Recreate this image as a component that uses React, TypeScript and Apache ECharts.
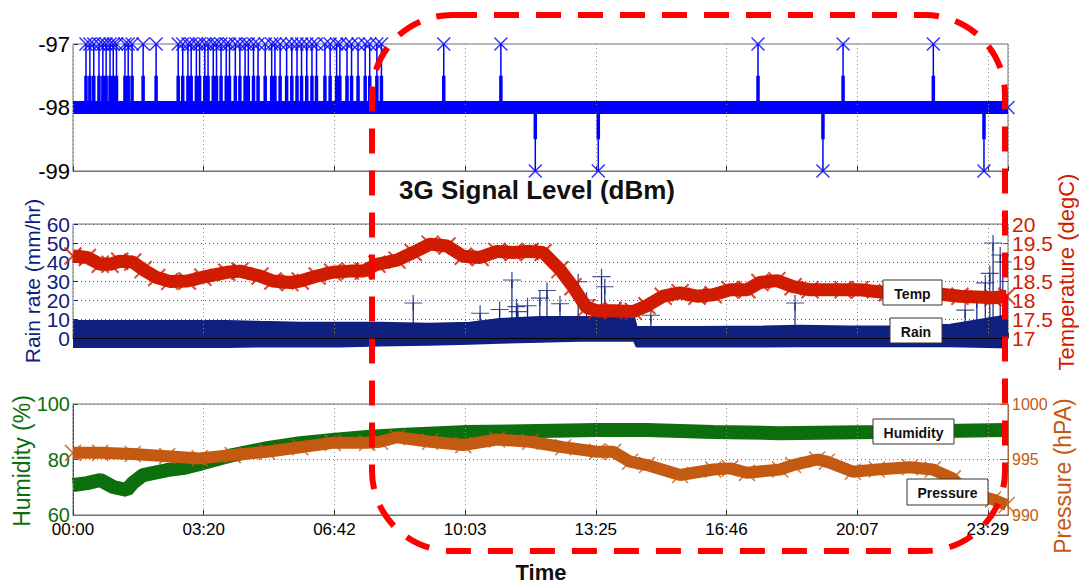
import React, { useEffect, useRef } from "react";
import * as echarts from "echarts";

// ---------- data ----------
const TIME_TICKS = ["00:00", "03:20", "06:42", "10:03", "13:25", "16:46", "20:07", "23:29"];
const TICK_STEP = 1409 / 7; // minutes between time ticks
const DAY_END = 1440;

// 3G signal (dBm): baseline -98, short excursions
const SIGNAL_BASE = -98;
const SIGNAL_UP_VALUE = -97;
const SIGNAL_DOWN_VALUE = -99;
const SIGNAL_UP_TIMES = [20, 26, 32, 40, 46, 51, 57, 62, 67, 80, 85, 91, 108, 128, 162, 169, 177, 182, 190, 195, 203, 208, 216, 221, 228, 236, 241, 250, 257, 265, 270, 278, 285, 296, 306, 311, 319, 329, 337, 345, 352, 360, 368, 375, 388, 396, 406, 411, 422, 429, 439, 450, 457, 468, 475, 571, 659, 1055, 1186, 1325];
const SIGNAL_DOWN_TIMES = [712, 809, 1155, 1403];

// Temperature (degC)
const TEMP_TIMES = [0, 22, 42, 57, 72, 92, 108, 129, 149, 176, 200, 237, 257, 288, 308, 334, 350, 376, 400, 427, 447, 468, 499, 524, 550, 576, 601, 627, 653, 678, 704, 724, 750, 770, 791, 807, 832, 863, 884, 909, 935, 961, 986, 1012, 1038, 1058, 1084, 1109, 1135, 1186, 1212, 1254, 1315, 1366, 1417, 1438];
const TEMP_VALUES = [19.16, 19.12, 18.94, 18.94, 19.02, 19.0, 18.8, 18.59, 18.49, 18.5, 18.6, 18.73, 18.76, 18.63, 18.5, 18.46, 18.5, 18.63, 18.73, 18.76, 18.76, 18.94, 19.05, 19.25, 19.47, 19.42, 19.15, 19.12, 19.28, 19.25, 19.28, 19.25, 18.8, 18.35, 17.8, 17.72, 17.72, 17.7, 17.85, 18.1, 18.19, 18.1, 18.14, 18.27, 18.27, 18.46, 18.51, 18.35, 18.27, 18.27, 18.27, 18.19, 18.19, 18.1, 18.06, 18.1];

// Rain rate (mm/hr): envelope of the dense noise band
const RAIN_ENV_TIMES = [0, 237, 288, 350, 411, 473, 549, 611, 657, 719, 781, 842, 864, 868, 966, 1063, 1120, 1197, 1274, 1351, 1405, 1440];
const RAIN_UPPER = [9, 9, 8.5, 8, 8, 8, 7.5, 8, 10, 11, 11, 11, 11, 5.8, 5.8, 6, 6.5, 6, 6, 7, 10, 12];
const RAIN_LOWER = [-4.7, -4.7, -4.5, -4.5, -4.5, -4, -3.5, -3, -2.5, -2, -1.5, -1.5, -1.5, -4.5, -4.5, -4.5, -4.3, -4.3, -4.3, -4.3, -4.8, -5];
const RAIN_SPIKE_BASE = 4;
const RAIN_SPIKE_TIMES = [524, 627, 657, 676, 683, 685, 700, 719, 730, 750, 778, 791, 814, 819, 842, 890, 1112, 1374, 1392, 1405, 1412, 1417, 1428, 1432];
const RAIN_SPIKE_VALUES = [18.4, 13, 15, 30.5, 16.5, 13.9, 17, 21, 25, 18, 29.6, 20, 32.3, 27, 15, 12, 18.4, 14.7, 20, 29, 34, 50, 43.7, 40];

// Humidity (%)
const HUM_TIMES = [0, 22, 42, 62, 83, 92, 108, 145, 169, 200, 246, 299, 350, 400, 453, 504, 607, 807, 884, 986, 1089, 1238, 1438];
const HUM_VALUES = [70.8, 71.5, 72.6, 70.1, 69, 71.5, 74.4, 76.2, 76.9, 78.7, 81.6, 84.1, 85.9, 87, 88.1, 88.8, 89.9, 90.6, 90.6, 89.9, 89.5, 89.9, 90.6];

// Pressure (hPA)
const PRES_TIMES = [0, 42, 92, 145, 195, 246, 299, 350, 400, 453, 473, 499, 550, 601, 653, 704, 755, 807, 832, 858, 884, 935, 986, 1012, 1038, 1089, 1109, 1146, 1161, 1201, 1238, 1289, 1324, 1355, 1377, 1417, 1438];
const PRES_VALUES = [995.6, 995.6, 995.5, 995.3, 995.1, 995.4, 995.7, 996.1, 996.5, 996.5, 996.6, 997.0, 996.6, 996.3, 996.8, 996.6, 996.1, 995.7, 995.7, 994.8, 994.5, 993.6, 994.1, 994.2, 993.8, 994.1, 994.5, 995.0, 994.8, 993.9, 994.1, 994.3, 994.1, 993.3, 992.0, 991.4, 990.9];

// Label boxes
const BOX_LABELS = ["Temp", "Rain", "Humidity", "Pressure"];

// ---------- styles ----------
const FONT = "'Liberation Sans', Arial, Helvetica, sans-serif";
const BLUE = "#0000ff";
const NAVY = "#10207e";
const RED = "#d01c00";
const GREEN = "#0c6e0c";
const ORANGE = "#c45a12";
const X_PATH = "path://M0,0L10,10M10,0L0,10";
const PLUS_PATH = "path://M5,0L5,10M0,5L10,5";
const BOX_RECTS = [
  { x: 883, y: 280, w: 59, h: 25 },
  { x: 890, y: 318, w: 52, h: 25 },
  { x: 873, y: 419, w: 81, h: 25 },
  { x: 907, y: 479, w: 81, h: 26 },
];

const zip = (xs: number[], ys: number[]) => xs.map((x, i) => [x, ys[i]]);

function timeLabel(v: number): string {
  const i = Math.round(v / TICK_STEP);
  return Math.abs(v - i * TICK_STEP) < 1 && TIME_TICKS[i] !== undefined ? TIME_TICKS[i] : "";
}

function xAxisFor(gridIndex: number, showLabels: boolean, lineColor: string) {
  return {
    type: "value",
    gridIndex,
    min: 0,
    max: DAY_END,
    interval: TICK_STEP,
    z: 3,
    axisLine: { show: true, lineStyle: { color: lineColor, width: 1 } },
    axisTick: { show: true, inside: true, length: 5, lineStyle: { color: "#333" } },
    axisLabel: {
      show: showLabels,
      formatter: timeLabel,
      color: "#000",
      fontSize: 17,
      fontFamily: FONT,
      margin: 6,
      showMinLabel: true,
      showMaxLabel: false,
    },
    splitLine: { show: true, lineStyle: { color: "#8a8a8a", type: [1, 3], width: 1 } },
  };
}

// keep: which of the alternating ticks get a label (0 = even steps, 1 = odd steps, -1 = all)
function yLabel(color: string, fontSize: number, margin: number, base = 0, step = 1, keep = -1) {
  return {
    color,
    fontSize,
    fontFamily: FONT,
    margin,
    showMinLabel: true,
    showMaxLabel: true,
    hideOverlap: false,
    formatter: (v: number) => {
      if (keep < 0) return String(v);
      const k = Math.round((v - base) / step);
      return k % 2 === keep ? String(v) : "";
    },
  };
}

export default function App() {
  const ref = useRef<HTMLDivElement>(null);

  useEffect(() => {
    if (!ref.current) return;
    const chart = echarts.init(ref.current, undefined, { renderer: "svg" });

    const events = [
      ...SIGNAL_UP_TIMES.map((t) => [t, SIGNAL_UP_VALUE]),
      ...SIGNAL_DOWN_TIMES.map((t) => [t, SIGNAL_DOWN_VALUE]),
    ].sort((a, b) => a[0] - b[0]);
    const spikeLines = events.flatMap(([t, v]) => [[t, SIGNAL_BASE], [t, v], [t, SIGNAL_BASE]]);
    const spikeThick = events.flatMap(([t, v]) => [
      [t, SIGNAL_BASE],
      [t, SIGNAL_BASE + (v - SIGNAL_BASE) * 0.5],
      [t, SIGNAL_BASE],
    ]);
    const rainSpikes = RAIN_SPIKE_TIMES.flatMap((t, i) => [
      [t, RAIN_SPIKE_BASE],
      [t, RAIN_SPIKE_VALUES[i]],
      [t, RAIN_SPIKE_BASE],
    ]);

    const frame = { show: true, borderColor: "#707070", borderWidth: 1, backgroundColor: "transparent" };

    const boxGraphics = BOX_LABELS.flatMap((label, i) => {
      const b = BOX_RECTS[i];
      return [
        {
          type: "rect", z: 60, zlevel: 1,
          shape: { x: b.x, y: b.y, width: b.w, height: b.h },
          style: { fill: "#fff", stroke: "#333", lineWidth: 1 },
        },
        {
          type: "text", z: 61, zlevel: 1, x: b.x + b.w / 2, y: b.y + b.h / 2 + 1,
          style: { text: label, fill: "#111", font: `bold 14px ${FONT}`, textAlign: "center", textVerticalAlign: "middle" },
        },
      ];
    });

    const labelOnly = { axisLine: { show: false }, axisTick: { show: false }, splitLine: { show: false } };

    const option: any = {
      animation: false,
      backgroundColor: "#ffffff",
      grid: [
        { left: 73, top: 44, width: 935, height: 127, ...frame },
        { left: 73, top: 224, width: 935, height: 114, ...frame },
        { left: 73, top: 404, width: 935, height: 111, ...frame },
      ],
      xAxis: [xAxisFor(0, false, "#707070"), xAxisFor(1, false, "#000"), xAxisFor(2, true, "#707070")],
      yAxis: [
        // 0: signal
        {
          type: "value", gridIndex: 0, min: -99, max: -97, interval: 1,
          axisLine: { show: false },
          axisTick: { show: true, inside: true, length: 5, lineStyle: { color: "#333" } },
          axisLabel: yLabel("#000", 22, 3),
          splitLine: { show: false },
        },
        // 1: rain (even labels, grid lines)
        {
          type: "value", gridIndex: 1, position: "left", min: 0, max: 60, interval: 10,
          axisLine: { show: false },
          axisTick: { show: true, inside: true, length: 5, lineStyle: { color: NAVY } },
          axisLabel: yLabel(NAVY, 21, 3, 0, 10, 0),
          splitLine: { show: true, lineStyle: { color: "#3a4fd0", type: [1, 3], width: 1 } },
        },
        // 2: rain (odd labels)
        {
          type: "value", gridIndex: 1, position: "left", min: 0, max: 60, interval: 10, ...labelOnly,
          axisLabel: yLabel(NAVY, 21, 3, 0, 10, 1),
        },
        // 3: temperature (integers)
        {
          type: "value", gridIndex: 1, position: "right", min: 17, max: 20, interval: 0.5,
          axisLine: { show: false },
          axisTick: { show: true, inside: true, length: 5, lineStyle: { color: RED } },
          axisLabel: yLabel(RED, 21, 4, 17, 0.5, 0),
          splitLine: { show: false },
        },
        // 4: temperature (halves)
        {
          type: "value", gridIndex: 1, position: "right", min: 17, max: 20, interval: 0.5, ...labelOnly,
          axisLabel: yLabel(RED, 21, 4, 17, 0.5, 1),
        },
        // 5: humidity
        {
          type: "value", gridIndex: 2, position: "left", min: 60, max: 100, interval: 20,
          axisLine: { show: true, lineStyle: { color: GREEN } },
          axisTick: { show: true, inside: true, length: 5, lineStyle: { color: GREEN } },
          axisLabel: yLabel(GREEN, 20, 3),
          splitLine: { show: true, lineStyle: { color: "#3aa03a", type: [1, 3], width: 1 } },
        },
        // 6: pressure
        {
          type: "value", gridIndex: 2, position: "right", min: 990, max: 1000, interval: 5,
          axisLine: { show: true, lineStyle: { color: ORANGE } },
          axisTick: { show: true, inside: true, length: 8, lineStyle: { color: ORANGE } },
          axisLabel: yLabel(ORANGE, 16, 4),
          splitLine: { show: false },
        },
      ],
      series: [
        // --- 3G signal ---
        {
          type: "line", xAxisIndex: 0, yAxisIndex: 0, symbol: "none", clip: false,
          data: [[0, SIGNAL_BASE], [DAY_END, SIGNAL_BASE]],
          lineStyle: { color: BLUE, width: 13 }, z: 2,
        },
        {
          type: "line", xAxisIndex: 0, yAxisIndex: 0, symbol: "none", clip: false,
          data: spikeLines, lineStyle: { color: BLUE, width: 1.5 }, z: 3,
        },
        {
          type: "line", xAxisIndex: 0, yAxisIndex: 0, symbol: "none", clip: false,
          data: spikeThick, lineStyle: { color: BLUE, width: 3.5 }, z: 3,
        },
        {
          type: "scatter", xAxisIndex: 0, yAxisIndex: 0, clip: false,
          data: [...events, [DAY_END, SIGNAL_BASE]],
          symbol: X_PATH, symbolSize: 13,
          itemStyle: { color: "rgba(0,0,0,0)", borderColor: BLUE, borderWidth: 1.5 }, z: 4,
        },
        // --- rain ---
        {
          type: "line", xAxisIndex: 1, yAxisIndex: 1, symbol: "none", clip: false,
          data: zip(RAIN_ENV_TIMES, RAIN_UPPER),
          lineStyle: { color: NAVY, width: 2 }, areaStyle: { color: NAVY, opacity: 1, origin: "auto" }, z: 2,
        },
        {
          type: "line", xAxisIndex: 1, yAxisIndex: 1, symbol: "none", clip: false,
          data: zip(RAIN_ENV_TIMES, RAIN_LOWER),
          lineStyle: { color: NAVY, width: 2 }, areaStyle: { color: NAVY, opacity: 1, origin: "auto" }, z: 2,
        },
        {
          type: "line", xAxisIndex: 1, yAxisIndex: 1, symbol: "none", clip: false,
          data: rainSpikes, lineStyle: { color: NAVY, width: 1.2 }, z: 2,
        },
        {
          type: "scatter", xAxisIndex: 1, yAxisIndex: 1, clip: false,
          data: zip(RAIN_SPIKE_TIMES, RAIN_SPIKE_VALUES),
          symbol: PLUS_PATH, symbolSize: [18, 16],
          itemStyle: { color: "rgba(0,0,0,0)", borderColor: NAVY, borderWidth: 1.2 }, z: 2,
        },
        // --- temperature ---
        {
          type: "line", xAxisIndex: 1, yAxisIndex: 3, symbol: "none", clip: false,
          data: zip(TEMP_TIMES, TEMP_VALUES), lineStyle: { color: RED, width: 13 }, z: 5,
        },
        {
          type: "scatter", xAxisIndex: 1, yAxisIndex: 3, clip: false,
          data: zip(TEMP_TIMES, TEMP_VALUES), symbol: X_PATH, symbolSize: 17,
          itemStyle: { color: "rgba(0,0,0,0)", borderColor: RED, borderWidth: 2 }, z: 5,
        },
        // --- humidity ---
        {
          type: "line", xAxisIndex: 2, yAxisIndex: 5, symbol: "none", clip: false,
          data: zip(HUM_TIMES, HUM_VALUES), lineStyle: { color: GREEN, width: 14 }, z: 2,
        },
        // --- pressure ---
        {
          type: "line", xAxisIndex: 2, yAxisIndex: 6, symbol: "none", clip: false,
          data: zip(PRES_TIMES, PRES_VALUES), lineStyle: { color: ORANGE, width: 12 }, z: 5,
        },
        {
          type: "scatter", xAxisIndex: 2, yAxisIndex: 6, clip: false,
          data: zip(PRES_TIMES, PRES_VALUES), symbol: X_PATH, symbolSize: 16,
          itemStyle: { color: "rgba(0,0,0,0)", borderColor: ORANGE, borderWidth: 1.6 }, z: 5,
        },
      ],
      graphic: [
        {
          type: "text", x: 537, y: 190, z: 50,
          style: { text: "3G Signal Level (dBm)", fill: "#111", font: `bold 26px ${FONT}`, textAlign: "center", textVerticalAlign: "middle" },
        },
        {
          type: "text", x: 541, y: 572, z: 50,
          style: { text: "Time", fill: "#111", font: `bold 22px ${FONT}`, textAlign: "center", textVerticalAlign: "middle" },
        },
        {
          type: "text", x: 32, y: 281, rotation: Math.PI / 2, z: 50,
          style: { text: "Rain rate (mm/hr)", fill: NAVY, font: `21px ${FONT}`, textAlign: "center", textVerticalAlign: "middle" },
        },
        {
          type: "text", x: 22, y: 461, rotation: Math.PI / 2, z: 50,
          style: { text: "Humidity (%)", fill: GREEN, font: `23px ${FONT}`, textAlign: "center", textVerticalAlign: "middle" },
        },
        {
          type: "text", x: 1066, y: 272, rotation: Math.PI / 2, z: 50,
          style: { text: "Temperature (degC)", fill: RED, font: `22px ${FONT}`, textAlign: "center", textVerticalAlign: "middle" },
        },
        {
          type: "text", x: 1063, y: 476, rotation: Math.PI / 2, z: 50,
          style: { text: "Pressure (hPA)", fill: ORANGE, font: `23px ${FONT}`, textAlign: "center", textVerticalAlign: "middle" },
        },
        ...boxGraphics,
        // red dashed highlight
        {
          type: "rect", z: 100, zlevel: 2,
          shape: { x: 372, y: 15, width: 633, height: 536, r: 80 },
          style: { fill: "none", stroke: "#ff0000", lineWidth: 6, lineDash: [25, 17] },
        },
      ],
    };

    chart.setOption(option);
    return () => chart.dispose();
  }, []);

  return <div ref={ref} style={{ position: "absolute", left: 0, top: 0, width: 1079, height: 583 }} />;
}
